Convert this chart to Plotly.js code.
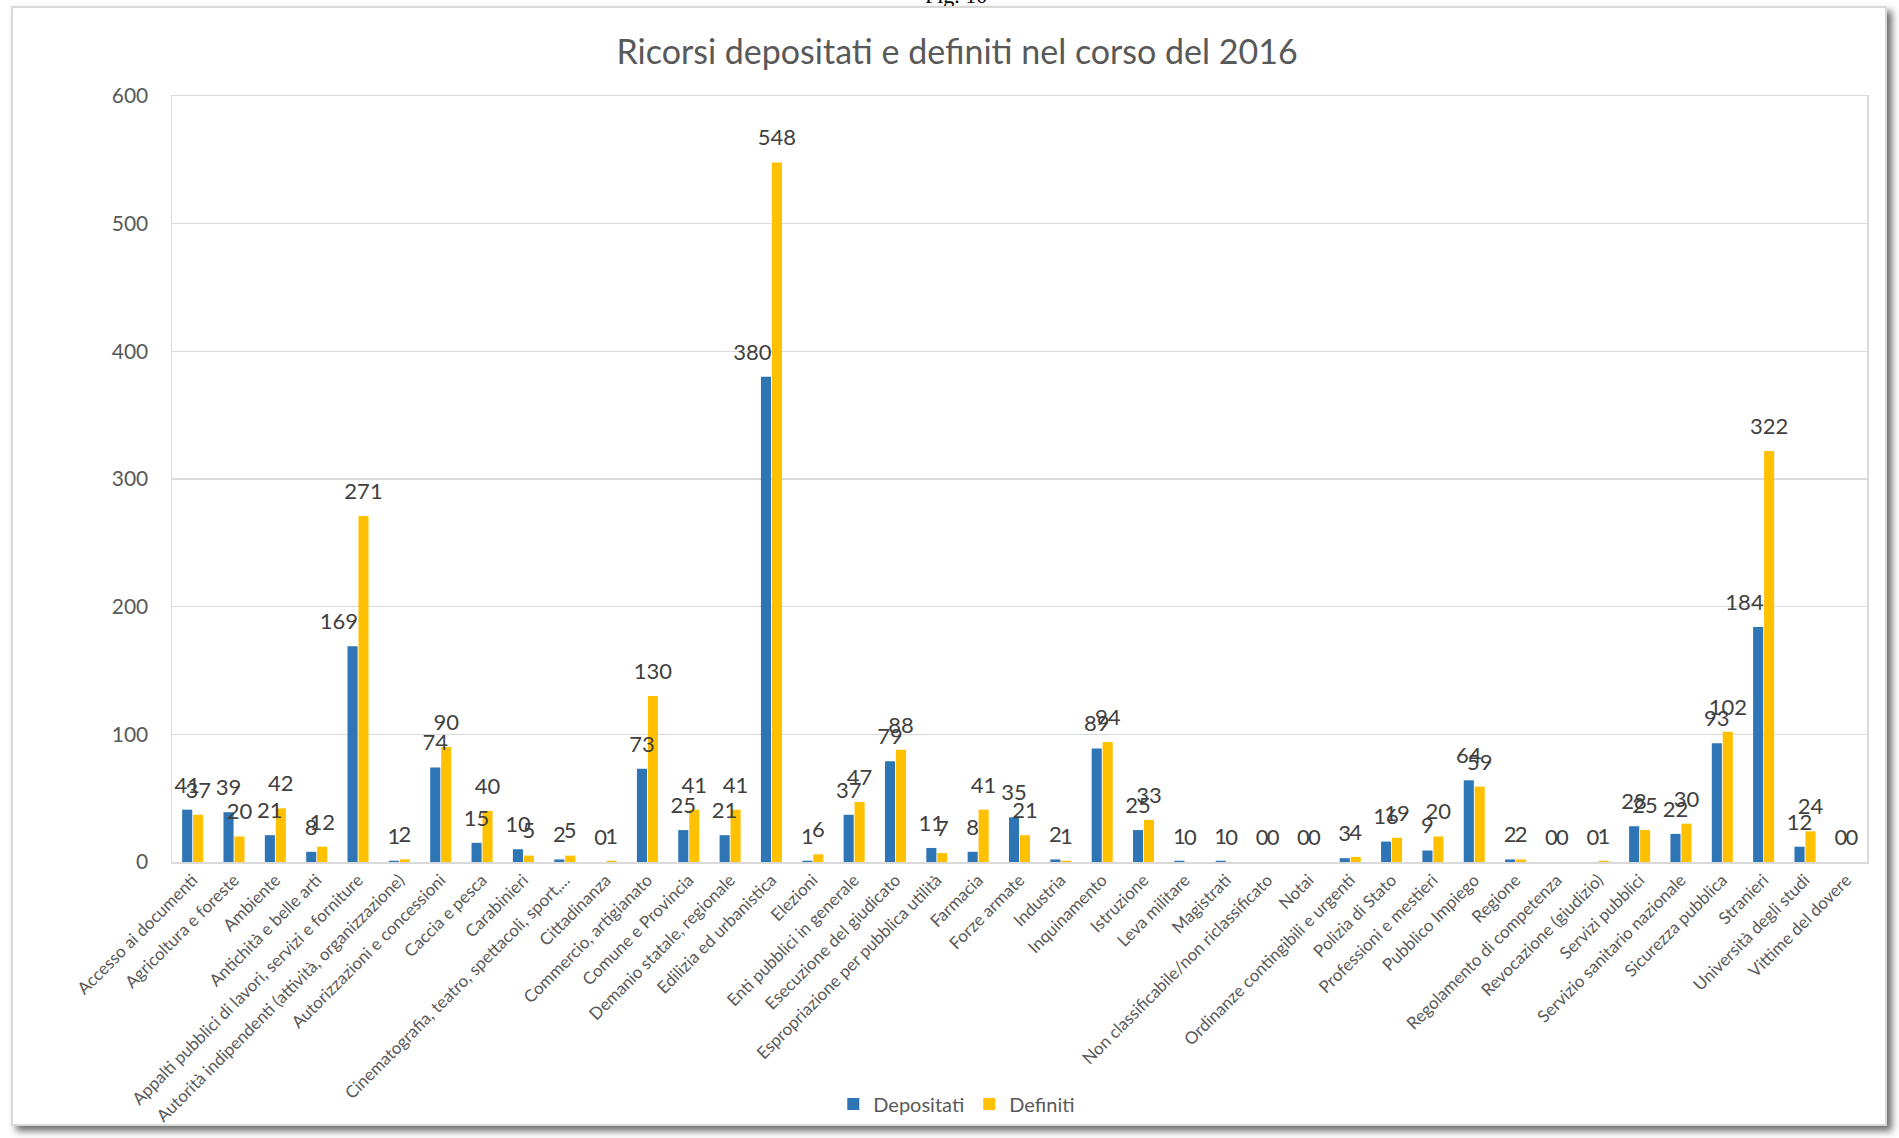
<!DOCTYPE html>
<html>
<head>
<meta charset="utf-8">
<script src="https://cdn.plot.ly/plotly-3.0.1.min.js"></script>
<style>
  html, body { margin: 0; padding: 0; background: #ffffff; width: 1899px; height: 1138px; overflow: hidden; }
  #frame { position: absolute; left: 11px; top: 6px; width: 1872px; height: 1116px; border: 2px solid #d9d9d9; background: #ffffff; box-shadow: 5px 5px 7px rgba(60,60,60,0.75); }
  #fig { position: absolute; left: 925px; top: -15px; font-family: "Liberation Serif", serif; font-size: 22px; line-height: 22px; color: #000; }
  #chart { position: absolute; left: 0; top: 0; width: 1899px; height: 1138px; }
</style>
</head>
<body>
<div id="fig">Fig. 10</div>
<div id="frame"></div>
<div id="chart"></div>
<script>
const categories = [
  "Accesso ai documenti",
  "Agricoltura e foreste",
  "Ambiente",
  "Antichità e belle arti",
  "Appalti pubblici di lavori, servizi e forniture",
  "Autorità indipendenti (attività, organizzazione)",
  "Autorizzazioni e concessioni",
  "Caccia e pesca",
  "Carabinieri",
  "Cinematografia, teatro, spettacoli, sport,...",
  "Cittadinanza",
  "Commercio, artigianato",
  "Comune e Provincia",
  "Demanio statale, regionale",
  "Edilizia ed urbanistica",
  "Elezioni",
  "Enti pubblici in generale",
  "Esecuzione del giudicato",
  "Espropriazione per pubblica utilità",
  "Farmacia",
  "Forze armate",
  "Industria",
  "Inquinamento",
  "Istruzione",
  "Leva militare",
  "Magistrati",
  "Non classificabile/non riclassificato",
  "Notai",
  "Ordinanze contingibili e urgenti",
  "Polizia di Stato",
  "Professioni e mestieri",
  "Pubblico Impiego",
  "Regione",
  "Regolamento di competenza",
  "Revocazione (giudizio)",
  "Servizi pubblici",
  "Servizio sanitario nazionale",
  "Sicurezza pubblica",
  "Stranieri",
  "Università degli studi",
  "Vittime del dovere"
];
const depositati = [41, 39, 21, 8, 169, 1, 74, 15, 10, 2, 0, 73, 25, 21, 380, 1, 37, 79, 11, 8, 35, 2, 89, 25, 1, 1, 0, 0, 3, 16, 9, 64, 2, 0, 0, 28, 22, 93, 184, 12, 0];
const definiti   = [37, 20, 42, 12, 271, 2, 90, 40, 5, 5, 1, 130, 41, 41, 548, 6, 47, 88, 7, 41, 21, 1, 94, 33, 0, 0, 0, 0, 4, 19, 20, 59, 2, 0, 1, 25, 30, 102, 322, 24, 0];
const seriesNames = ["Depositati", "Definiti"];
const yTicks = [0, 100, 200, 300, 400, 500, 600];
const titleText = "Ricorsi depositati e definiti nel corso del 2016";

const BLUE = "#2E75B6", GOLD = "#FFC000";
const FONT = "Lato, 'Open Sans', sans-serif";
const GAP = 0.47;
const MARKER = 17;                       // invisible marker that lifts the labels
const PLOT_W = 1899 - 172 - 32;
const idx = categories.map((_, i) => i);
const SLOT = (1 - GAP) / 4;              // centre of each bar inside its group
const R_UNITS = ((MARKER / 2) / 0.8 + 1) / (PLOT_W / categories.length);

// a "Depositati" label is set aside (to the left of the Definiti bar) when that bar rises far above it
const setAside = depositati.map((v, i) => definiti[i] - v > 60);

const barTrace = (name, vals, color, grp) => ({
  type: "bar", name: name, x: idx, y: vals,
  marker: { color: color }, hoverinfo: "y+name",
  offsetgroup: grp
});
const labelTrace = (vals, xs, pos) => ({
  type: "scatter", mode: "markers+text",
  x: xs, y: vals,
  text: vals.map(v => v === null ? "" : String(v)), textposition: pos,
  textfont: { family: FONT, size: 22, color: "#404040" },
  marker: { size: MARKER, color: "rgba(0,0,0,0)" },
  showlegend: false, hoverinfo: "skip", cliponaxis: false
});

const data = [
  barTrace(seriesNames[0], depositati, BLUE, "a"),
  barTrace(seriesNames[1], definiti, GOLD, "b"),
  labelTrace(depositati.map((v, i) => setAside[i] ? null : v), idx.map(i => i - SLOT), "top center"),
  labelTrace(depositati.map((v, i) => setAside[i] ? v : null), idx.map(i => i + R_UNITS), "top left"),
  labelTrace(definiti, idx.map(i => i + SLOT), "top center")
];

const layout = {
  width: 1899, height: 1138,
  margin: { l: 172, r: 32, t: 96, b: 276, pad: 0 },
  paper_bgcolor: "rgba(0,0,0,0)", plot_bgcolor: "rgba(0,0,0,0)",
  title: {
    text: titleText,
    font: { family: FONT, size: 34, color: "#595959" },
    x: 0.504, xref: "container", xanchor: "center",
    y: 0.954, yref: "container", yanchor: "middle"
  },
  barmode: "group", bargap: GAP, bargroupgap: 0.08,
  showlegend: true,
  legend: {
    orientation: "h", x: 0.463, xanchor: "center", y: -0.316, yanchor: "middle",
    font: { family: FONT, size: 20, color: "#595959" }
  },
  xaxis: {
    type: "linear", range: [-0.5, categories.length - 0.5],
    tickmode: "array", tickvals: idx, ticktext: categories,
    tickangle: -45, automargin: false,
    tickfont: { family: FONT, size: 17, color: "#595959" },
    showline: true, linecolor: "#D9D9D9", linewidth: 1.5, mirror: true,
    showgrid: false, zeroline: false, ticks: ""
  },
  yaxis: {
    range: [0, 600], tickvals: yTicks, automargin: false,
    tickfont: { family: FONT, size: 21, color: "#595959" },
    gridcolor: "#D9D9D9", gridwidth: 1.5,
    showline: true, linecolor: "#D9D9D9", linewidth: 1.5, mirror: true,
    zeroline: false, ticks: "", ticklabelstandoff: 18
  }
};

Plotly.newPlot("chart", data, layout, { displayModeBar: false, staticPlot: true });
</script>
</body>
</html>
